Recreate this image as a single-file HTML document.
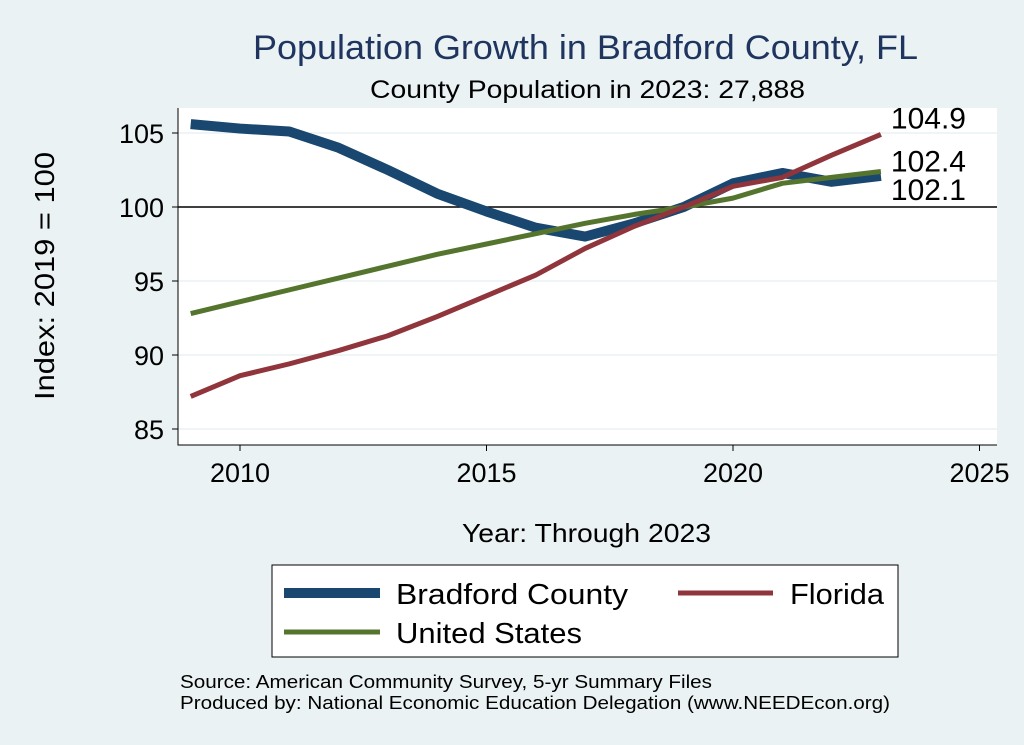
<!DOCTYPE html>
<html><head><meta charset="utf-8"><style>
body{margin:0;background:#eaf2f3;}
svg{display:block;font-family:"Liberation Sans",sans-serif;}
</style></head><body>
<svg id="chart" width="1024" height="745">
<rect x="0" y="0" width="1024" height="745" fill="#eaf2f3"/>
<text x="253" y="59" font-size="34" textLength="665" lengthAdjust="spacingAndGlyphs" fill="#1f3560">Population Growth in Bradford County, FL</text>
<text x="370" y="98" font-size="25" textLength="435" lengthAdjust="spacingAndGlyphs" fill="#000">County Population in 2023: 27,888</text>
<rect x="178" y="108" width="819" height="337" fill="#fff"/>
<g id="grid"></g>
<g id="axes"></g>
<g id="series"></g>
<text x="54" y="400" transform="rotate(-90 54 400)" font-size="28" textLength="248" lengthAdjust="spacingAndGlyphs">Index: 2019 = 100</text>
<text x="462" y="542" font-size="26" textLength="249" lengthAdjust="spacingAndGlyphs">Year: Through 2023</text>
<g>
<rect x="272" y="565" width="626" height="92" fill="#fff" stroke="#000" stroke-width="1"/>
<line x1="284" y1="593" x2="380" y2="593" stroke="#1a476f" stroke-width="10"/>
<text x="396" y="604" font-size="29" textLength="232" lengthAdjust="spacingAndGlyphs">Bradford  County</text>
<line x1="678" y1="593" x2="773" y2="593" stroke="#90353b" stroke-width="5"/>
<text x="790" y="604" font-size="29" textLength="94" lengthAdjust="spacingAndGlyphs">Florida</text>
<line x1="284" y1="632" x2="380" y2="632" stroke="#55752f" stroke-width="5"/>
<text x="396" y="643" font-size="29" textLength="186" lengthAdjust="spacingAndGlyphs">United States</text>
</g>
<text x="180" y="688" font-size="18" textLength="532" lengthAdjust="spacingAndGlyphs">Source: American Community Survey, 5-yr Summary Files</text>
<text x="180" y="709" font-size="18" textLength="710" lengthAdjust="spacingAndGlyphs">Produced by: National Economic Education Delegation (www.NEEDEcon.org)</text>
</svg>
<script>
const years=[2009,2010,2011,2012,2013,2014,2015,2016,2017,2018,2019,2020,2021,2022,2023];
const bradford=[105.6,105.3,105.1,104.0,102.5,100.9,99.7,98.6,98.0,98.9,100,101.6,102.3,101.7,102.1];
const florida=[87.2,88.6,89.4,90.3,91.3,92.6,94.0,95.4,97.2,98.7,100,101.4,102.0,103.5,104.9];
const us=[92.8,93.6,94.4,95.2,96.0,96.8,97.5,98.2,98.9,99.5,100,100.6,101.6,102.0,102.4];
const xTicks=[2010,2015,2020,2025];
const yTicks=[85,90,95,100,105];
const NS="http://www.w3.org/2000/svg";
const xs=v=>240+(v-2010)*49.3;
const ys=v=>207-(v-100)*14.8;
function mk(tag,attrs,parent){const e=document.createElementNS(NS,tag);for(const k in attrs)e.setAttribute(k,attrs[k]);document.getElementById(parent).appendChild(e);return e;}
yTicks.forEach(t=>{
 const g=mk('line',{x1:178,x2:997,y1:ys(t),y2:ys(t),stroke:t===100?'#000':'#eaf2f3','stroke-width':1.5},'grid');
 
 
 const tk=mk('line',{x1:172,x2:178,y1:ys(t),y2:ys(t),stroke:'#000'},'axes');
 
 
 const l=mk('text',{x:164,y:ys(t)+10,'text-anchor':'end','font-size':27},'axes');l.textContent=t;
 
 
});
xTicks.forEach(t=>{
 const tk=mk('line',{x1:xs(t),x2:xs(t),y1:445,y2:451,stroke:'#000'},'axes');
 
 
 const l=mk('text',{x:xs(t),y:482,'text-anchor':'middle','font-size':27},'axes');l.textContent=t;
 
 
});
const ax=mk('path',{d:'M178 108V445H997',fill:'none',stroke:'#000','stroke-width':1},'axes');


function line(vals,color,w,name){
 const p=mk('polyline',{points:vals.map((v,i)=>xs(years[i])+','+ys(v)).join(' '),fill:'none',stroke:color,'stroke-width':w,'stroke-linejoin':'round'},'series');
 
 
}
line(bradford,'#1a476f',10,'bradford-line');
line(us,'#55752f',5,'us-line');
line(florida,'#90353b',5,'florida-line');
const last=years.length-1;
[[florida,-6,'florida'],[us,0,'us'],[bradford,24,'bradford']].forEach(([arr,dy,n])=>{
 const t=mk('text',{x:xs(years[last])+10,y:ys(arr[last])+dy,'font-size':30},'series');
 t.textContent=arr[last].toFixed(1);
 
 
});
</script>
</body></html>
